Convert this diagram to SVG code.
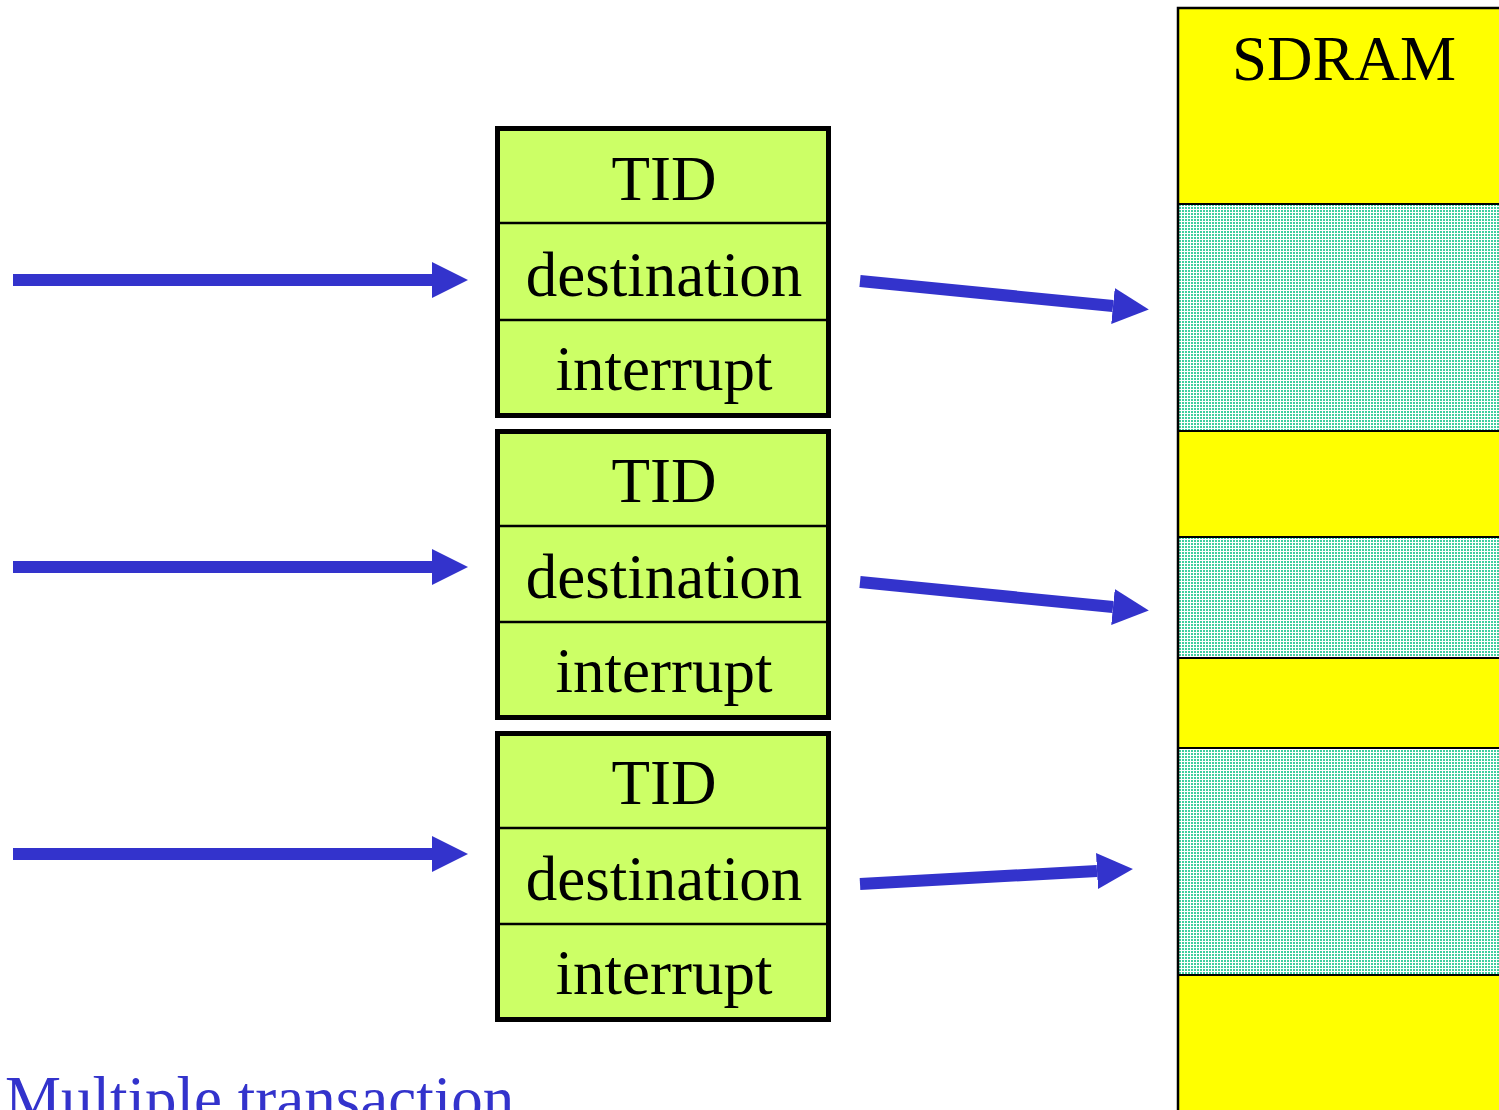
<svg xmlns="http://www.w3.org/2000/svg" width="1499" height="1110" viewBox="0 0 1499 1110">
  <style>
    .cell { fill: #ccff66; }
    .frame { fill: none; stroke: #000; stroke-width: 5; }
    .div { stroke: #000; stroke-width: 2.5; }
    .lbl { font-family: "Liberation Serif", "Times New Roman", serif; font-size: 63px; fill: #000; text-anchor: middle; }
    .arrow { stroke: #3333cc; stroke-width: 12; fill: none; }
    .sep { stroke: #000; stroke-width: 2; }
  </style>
  <defs>
    <pattern id="dots" width="3" height="3" patternUnits="userSpaceOnUse">
      <rect width="3" height="3" fill="#ffffff"/>
      <rect x="0" y="0" width="2" height="2" fill="#3fcf9f"/>
    </pattern>
    <marker id="head" markerWidth="3" markerHeight="3" refX="0" refY="1.5" orient="auto" markerUnits="strokeWidth">
      <path d="M0,0 L3,1.5 L0,3 Z" fill="#3333cc"/>
    </marker>
  </defs>

  <rect width="1499" height="1110" fill="#fff"/>

  <!-- memory column -->
  <g id="sdram">
    <rect x="1178" y="8" width="330" height="1110" fill="#ffff00"/>
    <rect x="1178" y="204" width="330" height="227" fill="url(#dots)"/>
    <rect x="1178" y="537" width="330" height="121" fill="url(#dots)"/>
    <rect x="1178" y="748" width="330" height="227" fill="url(#dots)"/>
    <line class="sep" x1="1178" y1="204" x2="1499" y2="204"/>
    <line class="sep" x1="1178" y1="431" x2="1499" y2="431"/>
    <line class="sep" x1="1178" y1="537" x2="1499" y2="537"/>
    <line class="sep" x1="1178" y1="658" x2="1499" y2="658"/>
    <line class="sep" x1="1178" y1="748" x2="1499" y2="748"/>
    <line class="sep" x1="1178" y1="975" x2="1499" y2="975"/>
    <path d="M1178,1110 V8 H1499" fill="none" stroke="#000" stroke-width="2.5"/>
    <text class="lbl" x="1344" y="80">SDRAM</text>
  </g>

  <!-- descriptor 1 -->
  <g id="desc1">
    <rect class="cell" x="497.5" y="128.5" width="331" height="287"/>
    <line class="div" x1="497" y1="223" x2="829" y2="223"/>
    <line class="div" x1="497" y1="320" x2="829" y2="320"/>
    <rect class="frame" x="497.5" y="128.5" width="331" height="287"/>
    <text class="lbl" x="664" y="200">TID</text>
    <text class="lbl" x="664" y="296">destination</text>
    <text class="lbl" x="664" y="390">interrupt</text>
  </g>

  <!-- descriptor 2 -->
  <g id="desc2">
    <rect class="cell" x="497.5" y="431.5" width="331" height="286"/>
    <line class="div" x1="497" y1="526" x2="829" y2="526"/>
    <line class="div" x1="497" y1="622" x2="829" y2="622"/>
    <rect class="frame" x="497.5" y="431.5" width="331" height="286"/>
    <text class="lbl" x="664" y="502">TID</text>
    <text class="lbl" x="664" y="598">destination</text>
    <text class="lbl" x="664" y="692">interrupt</text>
  </g>

  <!-- descriptor 3 -->
  <g id="desc3">
    <rect class="cell" x="497.5" y="733.5" width="331" height="286"/>
    <line class="div" x1="497" y1="828" x2="829" y2="828"/>
    <line class="div" x1="497" y1="924" x2="829" y2="924"/>
    <rect class="frame" x="497.5" y="733.5" width="331" height="286"/>
    <text class="lbl" x="664" y="804">TID</text>
    <text class="lbl" x="664" y="900">destination</text>
    <text class="lbl" x="664" y="994">interrupt</text>
  </g>

  <!-- connectors -->
  <g id="connectors">
    <line class="arrow" x1="13" y1="280" x2="432" y2="280" marker-end="url(#head)"/>
    <line class="arrow" x1="13" y1="567" x2="432" y2="567" marker-end="url(#head)"/>
    <line class="arrow" x1="13" y1="854" x2="432" y2="854" marker-end="url(#head)"/>
    <line class="arrow" x1="860" y1="281" x2="1113" y2="306" marker-end="url(#head)"/>
    <line class="arrow" x1="860" y1="582" x2="1113" y2="607" marker-end="url(#head)"/>
    <line class="arrow" x1="860" y1="884" x2="1097" y2="871" marker-end="url(#head)"/>
  </g>

  <text x="5" y="1120" font-family="Liberation Serif, Times New Roman, serif" font-size="63" fill="#3333cc">Multiple transaction</text>
</svg>
